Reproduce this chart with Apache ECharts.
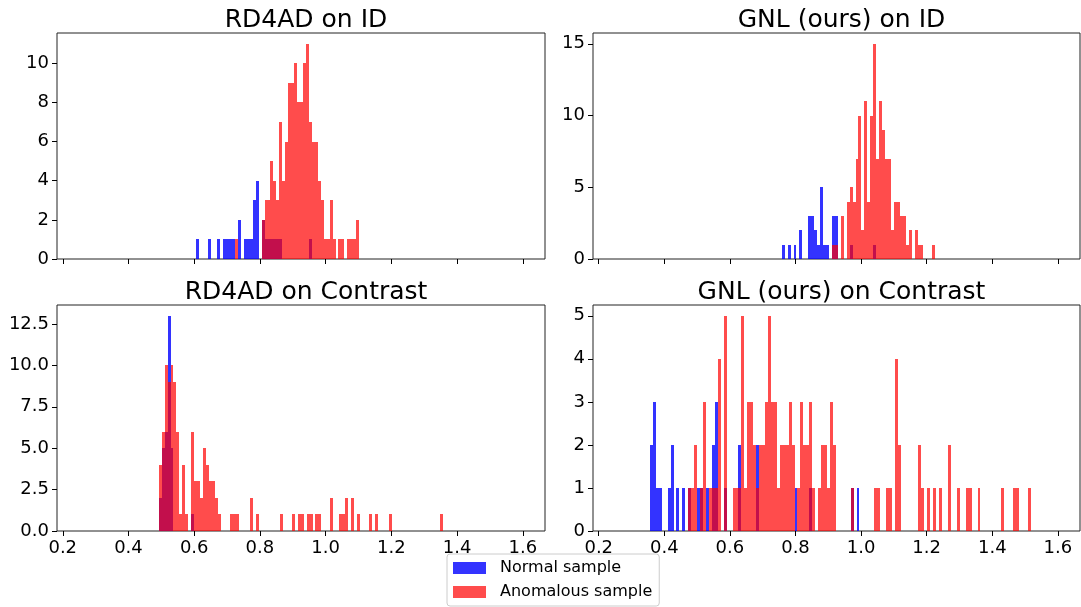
<!DOCTYPE html>
<html>
<head>
<meta charset="utf-8">
<script src="https://cdn.jsdelivr.net/npm/echarts@6/dist/echarts.min.js"></script>
<style>
  html, body { margin: 0; padding: 0; background: #fff; }
  #chart { width: 1081px; height: 607px; }
</style>
</head>
<body>
<div id="chart"></div>
<script>
// histogram bins: [bin start, count], bin width 0.009
var binWidth = 0.009

var rdIdNormal = [[0.607,1],[0.643,1],[0.670,1],[0.688,1],[0.697,1],[0.706,1],[0.715,1],[0.733,2],
  [0.751,1],[0.760,1],[0.769,1],[0.778,3],[0.787,4],[0.805,2],[0.814,1],[0.823,1],[0.832,1],
  [0.841,1],[0.850,1],[0.859,1],[0.949,1]]
var rdIdAnomal = [[0.724,1],[0.805,2],[0.814,3],[0.823,3],[0.832,5],[0.841,4],[0.850,3],[0.859,7],
  [0.868,4],[0.877,6],[0.886,9],[0.895,9],[0.904,10],[0.913,8],[0.922,8],[0.931,10],[0.940,11],
  [0.949,7],[0.958,6],[0.967,6],[0.976,4],[0.985,3],[0.994,1],[1.003,1],[1.012,3],[1.021,1],
  [1.039,1],[1.048,1],[1.066,1],[1.075,1],[1.084,1],[1.093,2]]

var gnlIdNormal = [[0.758,1],[0.776,1],[0.794,1],[0.812,2],[0.839,3],[0.848,3],[0.857,2],[0.866,1],
  [0.875,5],[0.884,1],[0.893,1],[0.911,3],[0.920,3],[0.965,1],[1.037,1]]
var gnlIdAnomal = [[0.911,1],[0.920,1],[0.938,3],[0.956,4],[0.965,5],[0.974,4],[0.983,7],[0.992,10],
  [1.001,2],[1.010,11],[1.019,4],[1.028,10],[1.037,15],[1.046,7],[1.055,11],[1.064,9],[1.073,7],
  [1.082,7],[1.091,2],[1.100,4],[1.109,4],[1.118,3],[1.127,3],[1.136,1],[1.145,2],[1.163,2],
  [1.172,1],[1.181,1],[1.217,1]]

var rdConNormal = [[0.492,2],[0.501,5],[0.510,6],[0.519,13],[0.528,5],[0.591,1]]
var rdConAnomal = [[0.492,4],[0.501,6],[0.510,10],[0.519,9],[0.528,10],[0.537,9],[0.546,6],[0.555,1],
  [0.564,4],[0.573,1],[0.591,6],[0.600,3],[0.609,3],[0.618,2],[0.627,5],[0.636,4],[0.645,3],
  [0.654,3],[0.663,2],[0.672,1],[0.708,1],[0.717,1],[0.726,1],[0.771,2],[0.789,1],[0.861,1],
  [0.897,1],[0.915,1],[0.924,1],[0.942,1],[0.951,1],[0.969,1],[0.978,1],[1.014,2],[1.041,1],
  [1.050,1],[1.059,2],[1.077,2],[1.095,1],[1.131,1],[1.149,1],[1.194,1],[1.347,1]]

var gnlConNormal = [[0.356,2],[0.365,3],[0.374,1],[0.383,1],[0.410,1],[0.419,2],[0.437,1],[0.455,1],
  [0.473,1],[0.500,1],[0.509,1],[0.527,1],[0.545,2],[0.554,3],[0.581,1],[0.626,2],[0.680,2],
  [0.797,1],[0.842,1],[0.968,1],[0.986,1]]
var gnlConAnomal = [[0.473,1],[0.482,1],[0.491,2],[0.509,1],[0.518,3],[0.536,1],[0.545,1],[0.554,1],
  [0.563,4],[0.581,5],[0.608,1],[0.617,1],[0.626,1],[0.635,5],[0.644,1],[0.653,3],[0.662,3],
  [0.671,2],[0.680,1],[0.689,2],[0.698,2],[0.707,3],[0.716,5],[0.725,3],[0.734,3],[0.743,1],
  [0.752,2],[0.761,2],[0.770,2],[0.779,3],[0.788,2],[0.806,1],[0.815,3],[0.824,2],[0.833,2],
  [0.842,3],[0.851,1],[0.869,1],[0.878,2],[0.887,2],[0.896,1],[0.905,3],[0.914,2],[0.968,1],
  [1.040,1],[1.049,1],[1.076,1],[1.085,1],[1.103,4],[1.112,2],[1.175,2],[1.184,1],[1.202,1],
  [1.220,1],[1.238,1],[1.265,2],[1.292,1],[1.319,1],[1.328,1],[1.355,1],[1.427,1],[1.463,1],
  [1.472,1],[1.508,1]]

var titles = ['RD4AD on ID', 'GNL (ours) on ID', 'RD4AD on Contrast', 'GNL (ours) on Contrast']
var xTicks = [0.2, 0.4, 0.6, 0.8, 1.0, 1.2, 1.4, 1.6]
var yTicksRdId = [0, 2, 4, 6, 8, 10]
var yTicksGnlId = [0, 5, 10, 15]
var yTicksRdCon = [0, 2.5, 5, 7.5, 10, 12.5]
var yTicksGnlCon = [0, 1, 2, 3, 4, 5]

var font = 'DejaVu Sans'
var blue = 'rgba(0,0,255,0.8)'
var red = 'rgba(255,0,0,0.7)'

var panels = [
  { normal: rdIdNormal, anomal: rdIdAnomal, yTicks: yTicksRdId, dec: 0, left: 57, top: 33, width: 488, labels: false },
  { normal: gnlIdNormal, anomal: gnlIdAnomal, yTicks: yTicksGnlId, dec: 0, left: 593, top: 33, width: 487, labels: false },
  { normal: rdConNormal, anomal: rdConAnomal, yTicks: yTicksRdCon, dec: 1, left: 57, top: 305, width: 488, labels: true },
  { normal: gnlConNormal, anomal: gnlConAnomal, yTicks: yTicksGnlCon, dec: 0, left: 593, top: 305, width: 487, labels: true }
]

function maxCount(list) {
  var m = 0
  list.forEach(function (d) { if (d[1] > m) m = d[1] })
  return m
}

// snap bar edges to whole pixels so neighbouring bins meet without seams
function renderBar(params, api) {
  var x0 = api.value(0)
  var n = api.value(1)
  var p0 = api.coord([x0, n])
  var p1 = api.coord([x0 + binWidth, 0])
  var xl = Math.round(p0[0]), xr = Math.round(p1[0])
  var yt = Math.round(p0[1]), yb = Math.round(p1[1])
  return {
    type: 'rect',
    shape: { x: xl, y: yt, width: Math.max(1, xr - xl), height: yb - yt },
    style: { fill: api.visual('color') }
  }
}

var grid = [], xAxis = [], yAxis = [], series = [], title = []

panels.forEach(function (p, i) {
  var ymax = Math.max(maxCount(p.normal), maxCount(p.anomal)) * 1.05
  grid.push({
    left: p.left, top: p.top, width: p.width, height: 226,
    show: true, borderColor: '#222', borderWidth: 1, backgroundColor: 'transparent'
  })
  title.push({
    text: titles[i],
    left: p.left + p.width / 2,
    top: p.top - 30,
    textAlign: 'center',
    textStyle: { fontFamily: font, fontSize: 25, fontWeight: 'normal', color: '#000' }
  })
  xAxis.push({
    type: 'value', gridIndex: i, min: 0.1825, max: 1.6675,
    axisLine: { show: false },
    splitLine: { show: false },
    axisTick: { show: true, length: 5, lineStyle: { color: '#000', width: 1 }, customValues: xTicks },
    axisLabel: {
      show: p.labels, customValues: xTicks, margin: 8,
      fontFamily: font, fontSize: 18, color: '#000',
      formatter: function (v) { return v.toFixed(1) }
    }
  })
  yAxis.push({
    type: 'value', gridIndex: i, min: 0, max: ymax,
    axisLine: { show: false },
    splitLine: { show: false },
    axisTick: { show: true, length: 5, lineStyle: { color: '#000', width: 1 }, customValues: p.yTicks },
    axisLabel: {
      customValues: p.yTicks, margin: 8,
      fontFamily: font, fontSize: 18, color: '#000',
      formatter: (function (dec) { return function (v) { return v.toFixed(dec) } })(p.dec)
    }
  })
  series.push({
    name: 'Normal sample', type: 'custom', xAxisIndex: i, yAxisIndex: i,
    renderItem: renderBar, encode: { x: 0, y: 1 },
    itemStyle: { color: blue }, data: p.normal, silent: true
  })
  series.push({
    name: 'Anomalous sample', type: 'custom', xAxisIndex: i, yAxisIndex: i,
    renderItem: renderBar, encode: { x: 0, y: 1 },
    itemStyle: { color: red }, data: p.anomal, silent: true
  })
})

var chart = echarts.init(document.getElementById('chart'), null, { renderer: 'canvas' })
chart.setOption({
  animation: false,
  backgroundColor: '#fff',
  title: title,
  grid: grid,
  xAxis: xAxis,
  yAxis: yAxis,
  legend: {
    orient: 'vertical',
    left: 447, top: 554,
    padding: [6, 7, 6, 6],
    itemGap: 8,
    itemWidth: 33, itemHeight: 12,
    icon: 'rect',
    borderColor: '#ccc', borderWidth: 1, borderRadius: 3,
    backgroundColor: '#fff',
    selectedMode: false,
    textStyle: { fontFamily: font, fontSize: 16, color: '#000', padding: [0, 0, 0, 9], lineHeight: 16 },
    data: [
      { name: 'Normal sample', itemStyle: { color: blue } },
      { name: 'Anomalous sample', itemStyle: { color: red } }
    ]
  },
  series: series
})
</script>
</body>
</html>
